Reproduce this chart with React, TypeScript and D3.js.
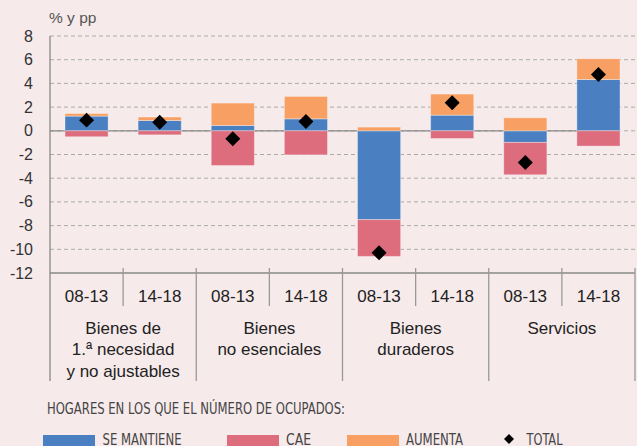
import * as d3 from "d3";

const periods = ["08-13", "14-18", "08-13", "14-18", "08-13", "14-18", "08-13", "14-18"];
const groups = [
  ["Bienes de", "1.ª necesidad", "y no ajustables"],
  ["Bienes", "no esenciales"],
  ["Bienes", "duraderos"],
  ["Servicios"],
];
const seMantiene = [1.24, 0.87, 0.45, 1.01, -7.5, 1.32, -0.98, 4.33];
const cae = [-0.5, -0.34, -2.93, -2.03, -3.1, -0.65, -2.73, -1.29];
const aumenta = [0.22, 0.29, 1.89, 1.89, 0.31, 1.78, 1.1, 1.75];
const total = [0.9, 0.73, -0.68, 0.79, -10.3, 2.36, -2.67, 4.75];
const yTicks = [8, 6, 4, 2, 0, -2, -4, -6, -8, -10, -12];

const seriesKeys = ["se", "cae", "aum"];
const seriesColors: Record<string, string> = { se: "#4a80c1", cae: "#dd6c7c", aum: "#f89f63" };

const W = 637;
const H = 446;
const left = 50;
const right = 635;
const font = "'Liberation Sans', Arial, sans-serif";
const narrow = "'Liberation Sans Narrow', 'DejaVu Sans Condensed', sans-serif";

export default function App() {
  const y = d3.scaleLinear().domain([-12, 8]).range([273, 36]);
  const x = d3
    .scaleBand<number>()
    .domain(d3.range(periods.length))
    .range([left, right])
    .paddingInner(0.41)
    .paddingOuter(0.205);
  const step = x.step();

  const rows = periods.map((_, i) => ({ se: seMantiene[i], cae: cae[i], aum: aumenta[i] }));
  const stacked = d3
    .stack<any>()
    .keys(seriesKeys)
    .offset(d3.stackOffsetDiverging)(rows);

  const diamond = d3.symbol().type(d3.symbolSquare).size(112)()!;
  const legendDiamond = d3.symbol().type(d3.symbolSquare).size(50)()!;

  const groupCenters = groups.map((_, g) => left + step * (2 * g + 1));

  return (
    <svg width={W} height={H} style={{ position: "absolute", left: 0, top: 0, display: "block" }}>
      <rect width={W} height={H} fill="#f6eaeb" />
      <text x={49} y={23} fontFamily={font} fontSize={15.5} fill="#555">% y pp</text>

      {yTicks.map((t) => (
        <g key={t}>
          {t > -12 && (
            <line x1={left} x2={W} y1={y(t)} y2={y(t)} stroke="#aaa" strokeDasharray="4,3" strokeWidth={1} />
          )}
          <text x={33} y={y(t) + 5.5} textAnchor="end" fontFamily={font} fontSize={16} fill="#333">
            {t}
          </text>
        </g>
      ))}

      <line x1={left} x2={598} y1={y(0)} y2={y(0)} stroke="#888" strokeWidth={1.2} />

      {stacked.map((s) => (
        <g key={s.key} fill={seriesColors[s.key]}>
          {s.map((d, i) => (
            <rect
              key={i}
              x={x(i)}
              width={x.bandwidth()}
              y={y(Math.max(d[0], d[1]))}
              height={Math.abs(y(d[0]) - y(d[1]))}
              stroke="rgba(255,255,255,0.35)"
              strokeWidth={1}
            />
          ))}
        </g>
      ))}

      {total.map((v, i) => (
        <path
          key={i}
          d={diamond}
          transform={`translate(${x(i)! + x.bandwidth() / 2},${y(v)}) rotate(45)`}
          fill="#000"
        />
      ))}

      <line x1={left} x2={right} y1={273} y2={273} stroke="#888" strokeWidth={1.3} />
      <line x1={left} x2={left} y1={36} y2={381} stroke="#888" strokeWidth={1.3} />
      {d3.range(1, periods.length + 1).map((k) => (
        <line
          key={k}
          x1={left + step * k}
          x2={left + step * k}
          y1={268}
          y2={k % 2 === 0 ? 381 : 306}
          stroke="#999"
          strokeWidth={1.3}
        />
      ))}

      {periods.map((p, i) => (
        <text
          key={i}
          x={x(i)! + x.bandwidth() / 2}
          y={302}
          textAnchor="middle"
          fontFamily={font}
          fontSize={17}
          fill="#222"
        >
          {p}
        </text>
      ))}

      {groups.map((lines, g) =>
        lines.map((l, j) => (
          <text
            key={g + "-" + j}
            x={groupCenters[g]}
            y={334 + j * 21.3}
            textAnchor="middle"
            fontFamily={font}
            fontSize={17}
            fill="#222"
          >
            {l}
          </text>
        ))
      )}

      <text x={47} y={413.5} fontFamily={narrow} fontSize={15.5} fill="#444" textLength={298} lengthAdjust="spacingAndGlyphs">
        HOGARES EN LOS QUE EL NÚMERO DE OCUPADOS:
      </text>

      <rect x={43} y={435} width={52} height={11} fill={seriesColors.se} />
      <text x={102.5} y={444.5} fontFamily={narrow} fontSize={16} fill="#444" textLength={79} lengthAdjust="spacingAndGlyphs">SE MANTIENE</text>
      <rect x={227} y={435} width={52} height={11} fill={seriesColors.cae} />
      <text x={286} y={444.5} fontFamily={narrow} fontSize={16} fill="#444" textLength={25} lengthAdjust="spacingAndGlyphs">CAE</text>
      <rect x={347} y={435} width={52} height={11} fill={seriesColors.aum} />
      <text x={406} y={444.5} fontFamily={narrow} fontSize={16} fill="#444" textLength={57} lengthAdjust="spacingAndGlyphs">AUMENTA</text>
      <path d={legendDiamond} transform="translate(509,439) rotate(45)" fill="#000" />
      <text x={526.5} y={444.5} fontFamily={narrow} fontSize={16} fill="#444" textLength={36} lengthAdjust="spacingAndGlyphs">TOTAL</text>
    </svg>
  );
}
